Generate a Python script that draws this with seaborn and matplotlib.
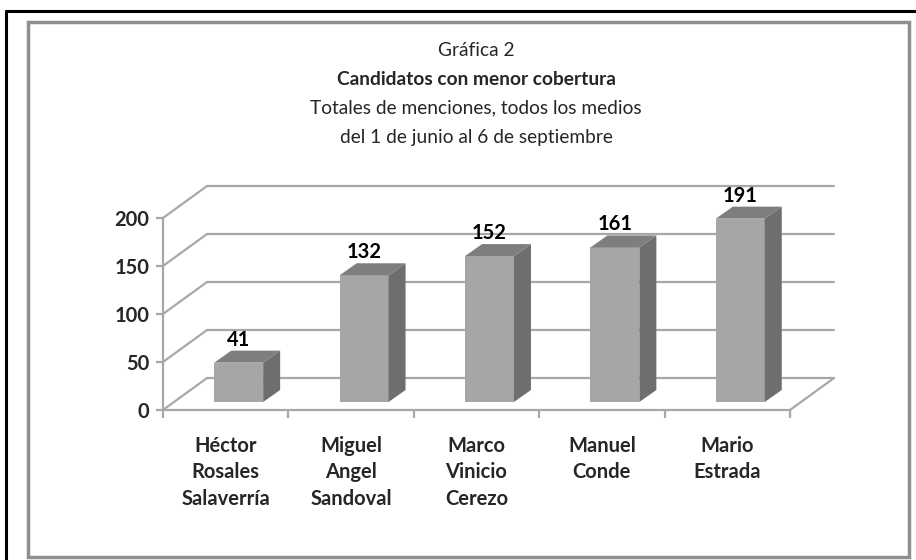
import numpy as np
import seaborn as sns
import matplotlib.pyplot as plt
from matplotlib.patches import Polygon, Rectangle
from matplotlib.lines import Line2D

candidatos = ["Héctor\nRosales\nSalaverría", "Miguel\nAngel\nSandoval", "Marco\nVinicio\nCerezo",
              "Manuel\nConde", "Mario\nEstrada"]
menciones = [41, 132, 152, 161, 191]
yticks = [0, 50, 100, 150, 200]

titulo = ["Gráfica 2", "Candidatos con menor cobertura",
          "Totales de menciones, todos los medios", "del 1 de junio al 6 de septiembre"]

sns.set_style("white")
plt.rcParams["font.family"] = ["Lato", "DejaVu Sans"]

grid_c = "#A8A8A8"
front_c = "#A6A6A6"
side_c = "#6E6E6E"
top_c = "#7E7E7E"

W, H = 916, 560
fig = plt.figure(figsize=(W / 100, H / 100), dpi=100)
ax = fig.add_axes([163 / W, 150 / H, 627 / W, 192 / H])

sns.barplot(x=list(range(len(menciones))), y=menciones, color=front_c, width=0.39,
            saturation=1, ax=ax, native_scale=False, zorder=3)
ax.set_xlim(-0.5, len(menciones) - 0.5)
ax.set_ylim(0, 200)

def to_data(pts):
    return ax.transData.inverted().transform(pts)

def to_px(pts):
    return ax.transData.transform(pts)

# wall depth and bar depth, pixels
wall = np.array([44, 32])
bar_shift = np.array([13, 8])
bar_depth = np.array([17, 12])

# back wall gridlines and left wall diagonals
x0, x1 = ax.get_xlim()
for v in yticks:
    a = to_px([(x0, v), (x1, v)])
    back = to_data(a + wall)
    ax.plot(back[:, 0], back[:, 1], color=grid_c, lw=1.6, clip_on=False, zorder=1)
    diag = to_data(np.array([a[0], a[0] + wall]))
    ax.plot(diag[:, 0], diag[:, 1], color=grid_c, lw=1.6, clip_on=False, zorder=1)
a = to_px([(x1, 0)])[0]
diag = to_data(np.array([a, a + wall]))
ax.plot(diag[:, 0], diag[:, 1], color=grid_c, lw=1.6, clip_on=False, zorder=1)

# 3d bars
for p, v in zip(ax.patches, menciones):
    bx, bw, bh = p.get_x(), p.get_width(), p.get_height()
    c = to_px([(bx, 0), (bx + bw, 0), (bx + bw, bh), (bx, bh)]) + bar_shift
    bl, br, tr, tl = c
    new = to_data(c)
    p.set_x(new[0, 0])
    p.set_y(new[0, 1])
    p.set_width(new[1, 0] - new[0, 0])
    p.set_height(new[2, 1] - new[1, 1])
    p.set_edgecolor("none")
    p.set_clip_on(False)
    side = to_data(np.array([br, br + bar_depth, tr + bar_depth, tr]))
    top = to_data(np.array([tl, tr, tr + bar_depth, tl + bar_depth]))
    ax.add_patch(Polygon(side, closed=True, facecolor=side_c, edgecolor="none", zorder=3, clip_on=False))
    ax.add_patch(Polygon(top, closed=True, facecolor=top_c, edgecolor="none", zorder=3, clip_on=False))
    lab = to_data(np.array([(tl[0] + tr[0]) / 2, tl[1] + 13]).reshape(1, 2))[0]
    ax.text(lab[0], lab[1], str(v), ha="center", va="bottom", fontsize=14.5,
            fontweight="bold", color="black", zorder=4, clip_on=False)

sns.despine(ax=ax, top=True, right=True)
for s in ["left", "bottom"]:
    ax.spines[s].set_color(grid_c)
    ax.spines[s].set_linewidth(1.6)
    ax.spines[s].set_zorder(2)

ax.set_yticks(yticks)
ax.set_yticklabels([str(t) for t in yticks], fontsize=14.5, fontweight="bold")
ax.tick_params(axis="y", direction="out", length=5, width=1.6, color=grid_c, pad=5, left=True)

ax.set_xticks(range(len(candidatos)))
ax.set_xticklabels(candidatos, fontsize=14.5, fontweight="bold", va="top")
ax.set_xticks(np.arange(-0.5, len(candidatos)), minor=True)
ax.tick_params(axis="x", which="major", length=0, pad=19)
ax.tick_params(axis="x", which="minor", direction="out", length=6, width=1.6, color=grid_c, bottom=True)
for t in ax.get_xticklabels():
    t.set_linespacing(1.38)
ax.set_xlabel("")
ax.set_ylabel("")
ax.grid(False)

# title
ys = [50, 80, 108, 137]
for i, (txt, y) in enumerate(zip(titulo, ys)):
    fig.text(476 / W, 1 - y / H, txt, ha="center", va="center", fontsize=13.8,
             fontweight="bold" if i == 1 else "normal")

# frames
fig.add_artist(Line2D([6 / W, 1], [1 - 11 / H, 1 - 11 / H], color="black", lw=2.2))
fig.add_artist(Line2D([6 / W, 6 / W], [0, 1 - 11 / H], color="black", lw=2.2))
fig.add_artist(Rectangle((28 / W, 1 - 557 / H), 881 / W, 535 / H, fill=False,
                         edgecolor="#8F8F8F", lw=2.5))

fig.savefig("out.png", dpi=100)
